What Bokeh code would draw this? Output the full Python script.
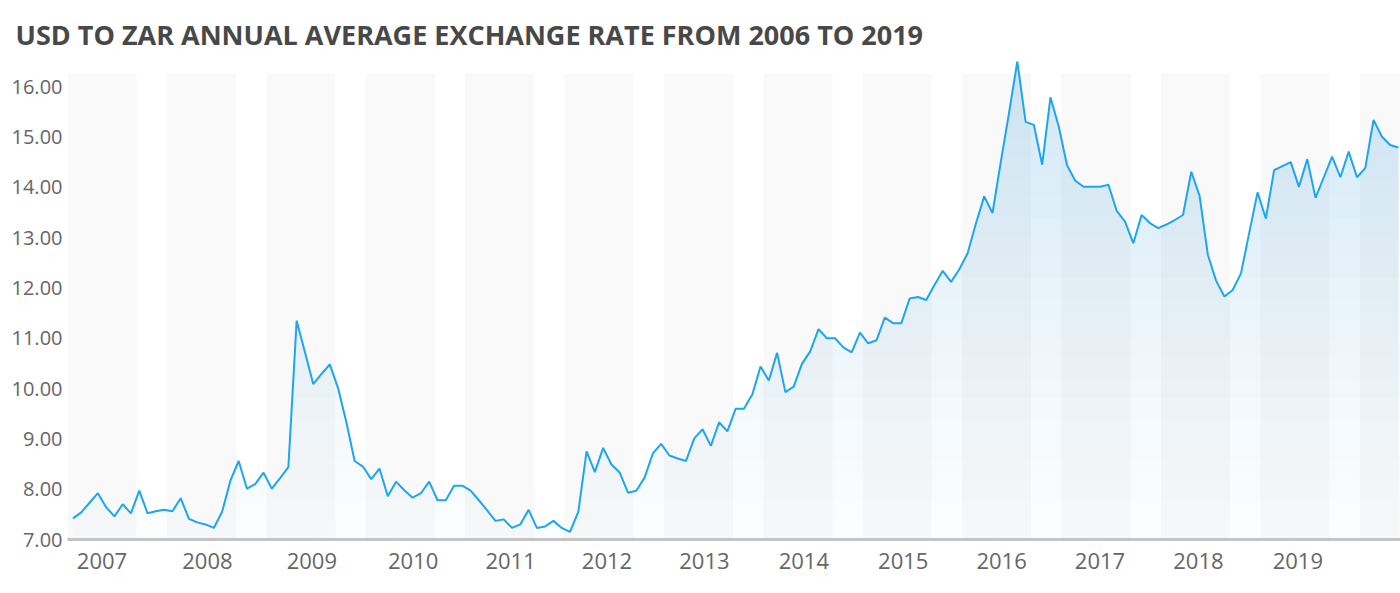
import numpy as np
from bokeh.plotting import figure
from bokeh.models import FixedTicker, NumeralTickFormatter, Range1d
from bokeh.embed import file_html
from bokeh.resources import INLINE

# ---------------- data ----------------
title_text = "USD TO ZAR ANNUAL AVERAGE EXCHANGE RATE FROM 2006 TO 2019"
year_labels = [2007, 2008, 2009, 2010, 2011, 2012, 2013, 2014, 2015, 2016, 2017, 2018, 2019]
y_ticks = [7, 8, 9, 10, 11, 12, 13, 14, 15, 16]
first_year = 2006
first_month = 9  # September 2006, monthly points
usd_zar = [
    7.42, 7.54, 7.73, 7.92, 7.64, 7.46, 7.70, 7.52, 7.97, 7.52,
    7.56, 7.59, 7.56, 7.82, 7.41, 7.34, 7.30, 7.23, 7.55, 8.17,
    8.56, 8.01, 8.10, 8.33, 8.01, 8.22, 8.44, 11.35, 10.72, 10.09,
    10.29, 10.48, 10.01, 9.33, 8.56, 8.45, 8.20, 8.41, 7.86, 8.15,
    7.98, 7.83, 7.92, 8.15, 7.78, 7.78, 8.07, 8.07, 7.97, 7.78,
    7.58, 7.37, 7.40, 7.23, 7.30, 7.59, 7.23, 7.26, 7.37, 7.23,
    7.15, 7.55, 8.75, 8.34, 8.82, 8.49, 8.33, 7.93, 7.97, 8.23,
    8.71, 8.90, 8.67, 8.61, 8.56, 9.01, 9.19, 8.86, 9.33, 9.15,
    9.60, 9.60, 9.88, 10.44, 10.16, 10.71, 9.93, 10.04, 10.49, 10.74,
    11.18, 11.00, 11.00, 10.82, 10.72, 11.11, 10.90, 10.96, 11.41, 11.30,
    11.30, 11.79, 11.82, 11.76, 12.06, 12.34, 12.12, 12.37, 12.69, 13.28,
    13.82, 13.49, 14.50, 15.48, 16.50, 15.30, 15.24, 14.45, 15.79, 15.21,
    14.44, 14.13, 14.01, 14.01, 14.01, 14.05, 13.53, 13.32, 12.89, 13.45,
    13.29, 13.19, 13.26, 13.35, 13.45, 14.31, 13.83, 12.66, 12.14, 11.83,
    11.96, 12.29, 13.10, 13.90, 13.38, 14.34, 14.42, 14.50, 14.01, 14.56,
    13.79, 14.20, 14.61, 14.20, 14.71, 14.20, 14.38, 15.34, 15.01, 14.84,
    14.79,
]

# ---------------- derived positions ----------------
n = len(usd_zar)
xs = first_year + (first_month - 0.5 + np.arange(n)) / 12.0
ys = np.array(usd_zar, dtype=float)

Y_MIN, Y_MAX = 7.0, 16.6
X_MIN, X_MAX = 2006.653, 2020.063
BAND_HALF = 0.347
BAND_TOP = 16.26
PX_PER_YEAR = 99.4
# small horizontal label nudges (pixels) to mimic the original label placement
label_nudge_px = [0, 6, 11, 13, 11, 8, 6, 6, 6, 5, 4, 3, 3]

LINE_COLOR = "#1da6f0"
FILL_COLOR = "#2b95d6"
TEXT_COLOR = "#666666"
FONT = "Open Sans"

p = figure(
    frame_width=1333, frame_height=483,
    min_border_left=67, min_border_right=0, min_border_top=56, min_border_bottom=46,
    x_range=Range1d(X_MIN, X_MAX), y_range=Range1d(Y_MIN, Y_MAX),
    output_backend="svg", toolbar_location=None,
    background_fill_color="white", border_fill_color="white",
)
p.outline_line_color = None
p.grid.visible = False

# title
p.title.text = title_text
p.title.text_font = FONT
p.title.text_font_size = "27px"
p.title.text_font_style = "bold"
p.title.text_color = "#484848"
p.title.align = "left"
p.title.offset = -52
p.title.standoff = 7

# alternating background bands
band_centers = np.array(year_labels + [year_labels[-1] + 1], dtype=float)
p.quad(left=band_centers - BAND_HALF, right=band_centers + BAND_HALF,
       bottom=Y_MIN, top=BAND_TOP, fill_color="#f9f9f9", line_color=None)

# gradient area fill: split into horizontal slabs with exact crossing points
levels = np.linspace(Y_MIN, Y_MAX, 25)

def refine(x, y, lv):
    rx, ry = [x[0]], [y[0]]
    for i in range(len(x) - 1):
        x0, y0, x1, y1 = x[i], y[i], x[i + 1], y[i + 1]
        if y1 != y0:
            lo, hi = min(y0, y1), max(y0, y1)
            ts = sorted((l - y0) / (y1 - y0) for l in lv if lo < l < hi)
            for t in ts:
                rx.append(x0 + t * (x1 - x0))
                ry.append(y0 + t * (y1 - y0))
        rx.append(x1)
        ry.append(y1)
    return np.array(rx), np.array(ry)

rx, ry = refine(xs, ys, levels)
nslab = len(levels) - 1
for k in range(nslab):
    a, b = levels[k], levels[k + 1]
    if ry.max() <= a:
        continue
    top = np.clip(ry, a, b)
    frac = (k + 0.5) / nslab
    alpha = 0.015 + 0.21 * frac ** 1.2
    p.varea(x=rx, y1=a, y2=top, fill_color=FILL_COLOR, fill_alpha=alpha)

# line
p.line(xs, ys, line_color=LINE_COLOR, line_width=2)

# axes
tick_pos = [y + d / PX_PER_YEAR for y, d in zip(year_labels, label_nudge_px)]
p.xaxis.ticker = FixedTicker(ticks=tick_pos)
p.xaxis.major_label_overrides = {t: str(y) for t, y in zip(tick_pos, year_labels)}
p.xaxis.axis_line_color = "#c4c4c4"
p.xaxis.axis_line_width = 3
p.xaxis.major_tick_line_color = None
p.xaxis.minor_tick_line_color = None
p.xaxis.major_tick_out = 0
p.xaxis.major_tick_in = 0
p.xaxis.major_label_text_font = FONT
p.xaxis.major_label_text_font_size = "22px"
p.xaxis.major_label_text_color = TEXT_COLOR
p.xaxis.major_label_standoff = 13

p.yaxis.ticker = FixedTicker(ticks=y_ticks)
p.yaxis.formatter = NumeralTickFormatter(format="0.00")
p.yaxis.axis_line_color = None
p.yaxis.major_tick_line_color = None
p.yaxis.minor_tick_line_color = None
p.yaxis.major_tick_out = 0
p.yaxis.major_tick_in = 0
p.yaxis.major_label_text_font = FONT
p.yaxis.major_label_text_font_size = "20px"
p.yaxis.major_label_text_color = TEXT_COLOR
p.yaxis.major_label_standoff = 5

open("out.html", "w").write(file_html(p, INLINE))
